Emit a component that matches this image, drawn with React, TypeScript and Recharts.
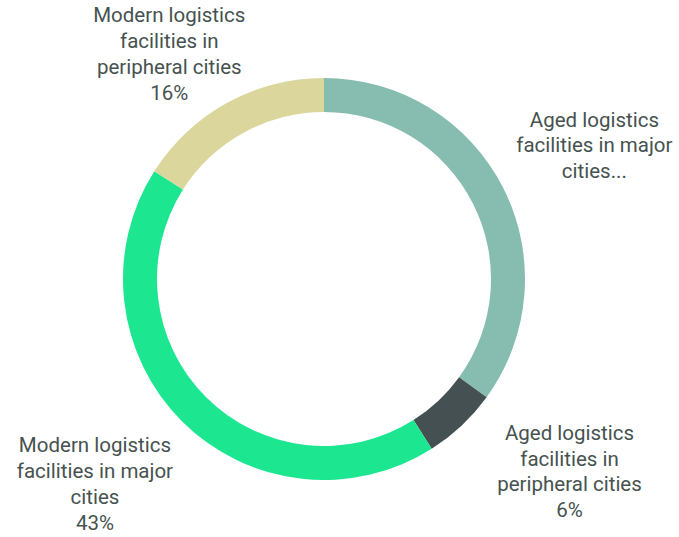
import React from "react";
import { PieChart, Pie, Cell } from "recharts";

const categories = [
  "Aged logistics facilities in major cities",
  "Aged logistics facilities in peripheral cities",
  "Modern logistics facilities in major cities",
  "Modern logistics facilities in peripheral cities",
];
const shares = [35, 6, 43, 16];
const labelLines = [
  ["Aged logistics", "facilities in major", "cities..."],
  ["Aged logistics", "facilities in", "peripheral cities", "6%"],
  ["Modern logistics", "facilities in major", "cities", "43%"],
  ["Modern logistics", "facilities in", "peripheral cities", "16%"],
];
const colors = ["#86bdb0", "#455052", "#1ce68f", "#dbd79c"];

const data = categories.map((name, i) => ({ name, value: shares[i] }));

// label nudges relative to a midAngle-based anchor
const nudges = [
  [12, -2],
  [47, -19],
  [-24, 0],
  [-15, 29],
];

const RAD = Math.PI / 180;

const renderLabel = (props: any) => {
  const { cx, cy, midAngle, index } = props;
  const r = 290;
  const x = cx + r * Math.cos(-midAngle * RAD) + nudges[index][0];
  const yc = cy + r * Math.sin(-midAngle * RAD) + nudges[index][1];
  const lines = labelLines[index];
  const lh = 25.8;
  const first = yc - ((lines.length - 1) * lh) / 2 + 7;
  return (
    <text
      key={`lbl-${index}`}
      x={x}
      y={first}
      textAnchor="middle"
      fill="#46524f"
      fontSize={20.5}
      fontFamily="Roboto, sans-serif"
    >
      {lines.map((l, i) => (
        <tspan key={i} x={x} y={first + i * lh}>
          {l}
        </tspan>
      ))}
    </text>
  );
};

export default function App() {
  return (
    <div style={{ position: "absolute", left: 0, top: 0 }}>
      <PieChart width={679} height={537} margin={{ top: 0, right: 0, bottom: 0, left: 0 }}>
        <Pie
          data={data}
          dataKey="value"
          nameKey="name"
          cx={324}
          cy={279}
          outerRadius={201}
          innerRadius={167}
          startAngle={90}
          endAngle={-270}
          stroke="none"
          label={renderLabel}
          labelLine={false}
          isAnimationActive={false}
        >
          {data.map((d, i) => (
            <Cell key={d.name} fill={colors[i]} />
          ))}
        </Pie>
      </PieChart>
    </div>
  );
}
